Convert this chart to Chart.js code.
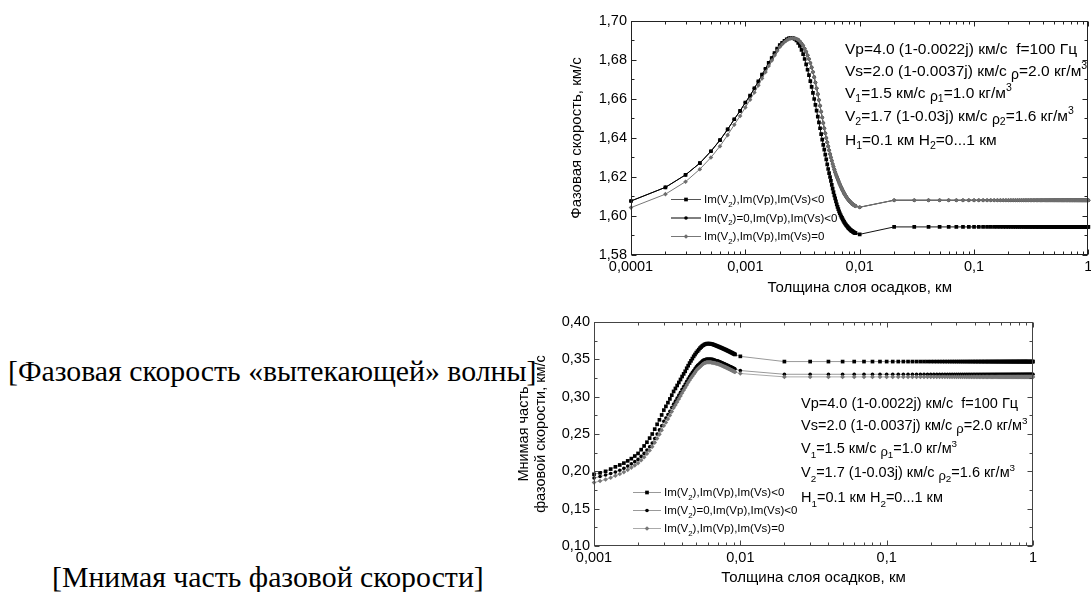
<!DOCTYPE html>
<html><head><meta charset="utf-8">
<script src="https://cdn.jsdelivr.net/npm/chart.js@4/dist/chart.umd.min.js"></script>
<style>
html,body{margin:0;padding:0;background:#fff;}
body{width:1091px;height:592px;overflow:hidden;position:relative;}
.box{position:absolute;}
.cap{position:absolute;font-family:"Liberation Serif";font-size:29.8px;white-space:nowrap;color:#000;line-height:1;}
</style></head><body>
<div class="cap" style="left:8px;top:356px">[Фазовая скорость «вытекающей» волны]</div>
<div class="cap" style="left:52px;top:562px">[Мнимая часть фазовой скорости]</div>
<div class="box" style="left:540px;top:0px;width:551px;height:300px"><canvas id="c1" width="551" height="300"></canvas></div>
<div class="box" style="left:500px;top:300px;width:591px;height:292px"><canvas id="c2" width="591" height="292"></canvas></div>
<script>
// ---- categories: layer thickness in units of 0.0001 km ----
const H_TOP = [1,2,3,4,5,6,7,8,9,10,11,12,13,14,15,16,17,18,19,20,21,22,23,24,25,26,27,28,29,30,
31,32,33,34,35,36,37,38,39,40,41,42,43,44,45,46,47,48,49,50,51,52,53,54,55,56,57,58,59,60,
61,62,63,64,65,66,67,68,69,70,71,72,73,74,75,76,77,78,79,80,81,82,83,84,85,86,87,88,89,90,91,92,
100,200,300,400,500,600,700,800,900,1000,1100,1200,1300,1400,1500,1600,1700,1800,1900,2000,
2100,2200,2300,2400,2500,2600,2700,2800,2900,3000,3100,3200,3300,3400,3500,3600,3700,3800,3900,4000,
4100,4200,4300,4400,4500,4600,4700,4800,4900,5000,5100,5200,5300,5400,5500,5600,5700,5800,5900,6000,
6100,6200,6300,6400,6500,6600,6700,6800,6900,7000,7100,7200,7300,7400,7500,7600,7700,7800,7900,8000,
8100,8200,8300,8400,8500,8600,8700,8800,8900,9000,9100,9200,9300,9400,9500,9600,9700,9800,9900,10000];
const H_BOT = H_TOP.filter(h => h >= 10);

// ---- top chart: phase velocity, km/s ----
const TOP_S1 = [1.6077,1.6147,1.6211,1.6271,1.6332,1.6389,1.6444,1.6496,1.6539,1.6582,
1.6617,1.6655,1.6690,1.6725,1.6755,1.6785,1.6810,1.6835,1.6858,1.6876,
1.6888,1.6898,1.6906,1.6911,1.6913,1.6912,1.6908,1.6900,1.6888,1.6872,
1.6852,1.6830,1.6805,1.6778,1.6750,1.6722,1.6692,1.6662,1.6631,1.6600,
1.6570,1.6540,1.6510,1.6480,1.6450,1.6420,1.6392,1.6365,1.6340,1.6315,
1.6290,1.6265,1.6241,1.6220,1.6200,1.6180,1.6160,1.6140,1.6122,1.6105,
1.6090,1.6075,1.6060,1.6047,1.6035,1.6024,1.6014,1.6005,1.5997,1.5990,
1.5983,1.5976,1.5970,1.5964,1.5959,1.5954,1.5950,1.5946,1.5942,1.5938,
1.5935,1.5932,1.5929,1.5926,1.5924,1.5922,1.5920,1.5918,1.5916,1.5914,
1.5913,1.5912,
1.5906,
1.5944,1.5944,1.5944,1.5944,1.5944,1.5944,1.5944,1.5944,1.5944,1.5944,1.5944,
1.5944,1.5944,1.5944,1.5944,1.5944,1.5944,1.5944,1.5944,1.5944,1.5944,1.5944,
1.5944,1.5944,1.5944,1.5944,1.5944,1.5944,1.5944,1.5944,1.5944,1.5944,1.5944,
1.5944,1.5944,1.5944,1.5944,1.5944,1.5944,1.5944,1.5944,1.5944,1.5944,1.5944,
1.5944,1.5944,1.5944,1.5944,1.5944,1.5944,1.5944,1.5944,1.5944,1.5944,1.5944,
1.5944,1.5944,1.5944,1.5944,1.5944,1.5944,1.5944,1.5944,1.5944,1.5944,1.5944,
1.5944,1.5944,1.5944,1.5944,1.5944,1.5944,1.5944,1.5944,1.5944,1.5944,1.5944,
1.5944,1.5944,1.5944,1.5944,1.5944,1.5944,1.5944,1.5944,1.5944,1.5944,1.5944,
1.5944,1.5944,1.5944,1.5944,1.5944,1.5944,1.5944,1.5944,1.5944,1.5944,1.5944];
const TOP_S2 = [1.6077,1.6147,1.6211,1.6271,1.6332,1.6389,1.6444,1.6496,1.6539,1.6582,
1.6617,1.6655,1.6690,1.6725,1.6755,1.6785,1.6810,1.6835,1.6858,1.6876,
1.6888,1.6898,1.6906,1.6911,1.6913,1.6912,1.6911,1.6908,1.6903,1.6895,
1.6885,1.6873,1.6858,1.6842,1.6824,1.6805,1.6785,1.6762,1.6738,1.6712,
1.6684,1.6655,1.6625,1.6595,1.6565,1.6535,1.6505,1.6477,1.6450,1.6424,
1.6400,1.6378,1.6357,1.6337,1.6318,1.6300,1.6283,1.6267,1.6252,1.6238,
1.6225,1.6213,1.6202,1.6192,1.6182,1.6172,1.6163,1.6154,1.6146,1.6138,
1.6131,1.6124,1.6117,1.6111,1.6105,1.6100,1.6095,1.6090,1.6086,1.6082,
1.6078,1.6074,1.6071,1.6068,1.6065,1.6062,1.6060,1.6058,1.6056,1.6054,
1.6052,1.6051,
1.6045,
1.6081,1.6081,1.6081,1.6081,1.6081,1.6081,1.6081,1.6081,1.6081,1.6081,1.6081,
1.6081,1.6081,1.6081,1.6081,1.6081,1.6081,1.6081,1.6081,1.6081,1.6081,1.6081,
1.6081,1.6081,1.6081,1.6081,1.6081,1.6081,1.6081,1.6081,1.6081,1.6081,1.6081,
1.6081,1.6081,1.6081,1.6081,1.6081,1.6081,1.6081,1.6081,1.6081,1.6081,1.6081,
1.6081,1.6081,1.6081,1.6081,1.6081,1.6081,1.6081,1.6081,1.6081,1.6081,1.6081,
1.6081,1.6081,1.6081,1.6081,1.6081,1.6081,1.6081,1.6081,1.6081,1.6081,1.6081,
1.6081,1.6081,1.6081,1.6081,1.6081,1.6081,1.6081,1.6081,1.6081,1.6081,1.6081,
1.6081,1.6081,1.6081,1.6081,1.6081,1.6081,1.6081,1.6081,1.6081,1.6081,1.6081,
1.6081,1.6081,1.6081,1.6081,1.6081,1.6081,1.6081,1.6081,1.6081,1.6081,1.6081];
const TOP_S3 = [1.6043,1.6112,1.6176,1.6240,1.6300,1.6358,1.6415,1.6468,1.6513,1.6557,
1.6596,1.6633,1.6670,1.6706,1.6738,1.6769,1.6797,1.6823,1.6847,1.6867,
1.6881,1.6892,1.6901,1.6908,1.6911,1.6912,1.6911,1.6908,1.6903,1.6895,
1.6885,1.6873,1.6858,1.6842,1.6824,1.6805,1.6785,1.6762,1.6738,1.6712,
1.6684,1.6655,1.6625,1.6595,1.6565,1.6535,1.6505,1.6477,1.6450,1.6424,
1.6400,1.6378,1.6357,1.6337,1.6318,1.6300,1.6283,1.6267,1.6252,1.6238,
1.6225,1.6213,1.6202,1.6192,1.6182,1.6172,1.6163,1.6154,1.6146,1.6138,
1.6131,1.6124,1.6117,1.6111,1.6105,1.6100,1.6095,1.6090,1.6086,1.6082,
1.6078,1.6074,1.6071,1.6068,1.6065,1.6062,1.6060,1.6058,1.6056,1.6054,
1.6052,1.6051,
1.6045,
1.6081,1.6081,1.6081,1.6081,1.6081,1.6081,1.6081,1.6081,1.6081,1.6081,1.6081,
1.6081,1.6081,1.6081,1.6081,1.6081,1.6081,1.6081,1.6081,1.6081,1.6081,1.6081,
1.6081,1.6081,1.6081,1.6081,1.6081,1.6081,1.6081,1.6081,1.6081,1.6081,1.6081,
1.6081,1.6081,1.6081,1.6081,1.6081,1.6081,1.6081,1.6081,1.6081,1.6081,1.6081,
1.6081,1.6081,1.6081,1.6081,1.6081,1.6081,1.6081,1.6081,1.6081,1.6081,1.6081,
1.6081,1.6081,1.6081,1.6081,1.6081,1.6081,1.6081,1.6081,1.6081,1.6081,1.6081,
1.6081,1.6081,1.6081,1.6081,1.6081,1.6081,1.6081,1.6081,1.6081,1.6081,1.6081,
1.6081,1.6081,1.6081,1.6081,1.6081,1.6081,1.6081,1.6081,1.6081,1.6081,1.6081,
1.6081,1.6081,1.6081,1.6081,1.6081,1.6081,1.6081,1.6081,1.6081,1.6081,1.6081];

// ---- bottom chart: imaginary part of phase velocity, km/s ----
const BOT_S1 = [0.196,0.198,0.200,0.203,0.206,0.2085,0.211,0.214,0.217,0.2205,
0.224,0.229,0.234,0.239,0.2445,0.250,0.2565,0.263,0.269,0.2755,
0.282,0.287,0.292,0.297,0.302,0.307,0.311,0.315,0.319,0.323,
0.327,0.3305,0.334,0.338,0.3415,0.345,0.348,0.351,0.354,0.3565,
0.359,0.361,0.363,0.365,0.3665,0.368,0.369,0.370,0.3705,0.371,
0.371,0.371,0.371,0.3705,0.3705,0.370,0.3695,0.369,0.3685,0.368,
0.3675,0.367,0.3665,0.366,0.3655,0.365,0.3645,0.364,0.3635,0.363,
0.3625,0.362,0.3615,0.361,0.3605,0.360,0.3595,0.359,0.3585,0.358,
0.3575,0.357,0.3565,
0.354,
0.347,0.347,0.347,0.347,0.347,0.347,0.347,0.347,0.347,0.347,0.347,
0.347,0.347,0.347,0.347,0.347,0.347,0.347,0.347,0.347,0.347,0.347,
0.347,0.347,0.347,0.347,0.347,0.347,0.347,0.347,0.347,0.347,0.347,
0.347,0.347,0.347,0.347,0.347,0.347,0.347,0.347,0.347,0.347,0.347,
0.347,0.347,0.347,0.347,0.347,0.347,0.347,0.347,0.347,0.347,0.347,
0.347,0.347,0.347,0.347,0.347,0.347,0.347,0.347,0.347,0.347,0.347,
0.347,0.347,0.347,0.347,0.347,0.347,0.347,0.347,0.347,0.347,0.347,
0.347,0.347,0.347,0.347,0.347,0.347,0.347,0.347,0.347,0.347,0.347,
0.347,0.347,0.347,0.347,0.347,0.347,0.347,0.347,0.347,0.347,0.347];
const BOT_S2 = [0.191,0.193,0.195,0.197,0.199,0.2015,0.204,0.207,0.210,0.213,
0.216,0.220,0.224,0.2285,0.233,0.238,0.244,0.250,0.2555,0.261,
0.267,0.2715,0.276,0.2805,0.2855,0.290,0.294,0.298,0.302,0.306,
0.310,0.3135,0.317,0.3205,0.324,0.327,0.330,0.3325,0.335,0.3375,
0.340,0.342,0.3435,0.345,0.3465,0.348,0.349,0.3495,0.350,0.3505,
0.3505,0.3505,0.3505,0.3505,0.350,0.350,0.3495,0.349,0.3485,0.348,
0.348,0.3475,0.347,0.3465,0.346,0.3455,0.345,0.3445,0.344,0.3435,
0.343,0.3425,0.342,0.3415,0.341,0.3405,0.340,0.3395,0.339,0.3385,
0.338,0.3375,0.337,
0.335,
0.330,0.330,0.330,0.330,0.330,0.330,0.330,0.330,0.330,0.330,0.330,
0.330,0.330,0.330,0.330,0.330,0.330,0.330,0.330,0.330,0.330,0.330,
0.330,0.330,0.330,0.330,0.330,0.330,0.330,0.330,0.330,0.330,0.330,
0.330,0.330,0.330,0.330,0.330,0.330,0.330,0.330,0.330,0.330,0.330,
0.330,0.330,0.330,0.330,0.330,0.330,0.330,0.330,0.330,0.330,0.330,
0.330,0.330,0.330,0.330,0.330,0.330,0.330,0.330,0.330,0.330,0.330,
0.330,0.330,0.330,0.330,0.330,0.330,0.330,0.330,0.330,0.330,0.330,
0.330,0.330,0.330,0.330,0.330,0.330,0.330,0.330,0.330,0.330,0.330,
0.330,0.330,0.330,0.330,0.330,0.330,0.330,0.330,0.330,0.330,0.330];
const BOT_S3 = [0.185,0.187,0.189,0.1915,0.194,0.1965,0.199,0.202,0.205,0.208,
0.211,0.215,0.219,0.2235,0.228,0.233,0.2385,0.244,0.2495,0.255,
0.261,0.2655,0.270,0.275,0.280,0.285,0.289,0.293,0.297,0.301,
0.305,0.3085,0.312,0.3155,0.319,0.322,0.325,0.3275,0.330,0.3325,
0.335,0.337,0.3385,0.340,0.3415,0.343,0.344,0.345,0.3455,0.346,
0.346,0.346,0.346,0.346,0.3455,0.3455,0.345,0.345,0.3445,0.344,
0.344,0.3435,0.343,0.3425,0.342,0.3415,0.341,0.3405,0.340,0.3395,
0.339,0.3385,0.338,0.3375,0.337,0.3365,0.336,0.3355,0.335,0.3345,
0.334,0.3335,0.333,
0.331,
0.3265,0.3265,0.3265,0.3265,0.3265,0.3265,0.3265,0.3265,0.3265,0.3265,0.3265,
0.3265,0.3265,0.3265,0.3265,0.3265,0.3265,0.3265,0.3265,0.3265,0.3265,0.3265,
0.3265,0.3265,0.3265,0.3265,0.3265,0.3265,0.3265,0.3265,0.3265,0.3265,0.3265,
0.3265,0.3265,0.3265,0.3265,0.3265,0.3265,0.3265,0.3265,0.3265,0.3265,0.3265,
0.3265,0.3265,0.3265,0.3265,0.3265,0.3265,0.3265,0.3265,0.3265,0.3265,0.3265,
0.3265,0.3265,0.3265,0.3265,0.3265,0.3265,0.3265,0.3265,0.3265,0.3265,0.3265,
0.3265,0.3265,0.3265,0.3265,0.3265,0.3265,0.3265,0.3265,0.3265,0.3265,0.3265,
0.3265,0.3265,0.3265,0.3265,0.3265,0.3265,0.3265,0.3265,0.3265,0.3265,0.3265,
0.3265,0.3265,0.3265,0.3265,0.3265,0.3265,0.3265,0.3265,0.3265,0.3265,0.3265];

// ---- tick labels ----
const TOP_X_TICKS = [0.0001, 0.001, 0.01, 0.1, 1];
const TOP_X_LABELS = ['0,0001', '0,001', '0,01', '0,1', '1'];
const TOP_Y_TICKS = [1.58, 1.60, 1.62, 1.64, 1.66, 1.68, 1.70];
const TOP_Y_LABELS = ['1,58', '1,60', '1,62', '1,64', '1,66', '1,68', '1,70'];
const BOT_X_TICKS = [0.001, 0.01, 0.1, 1];
const BOT_X_LABELS = ['0,001', '0,01', '0,1', '1'];
const BOT_Y_TICKS = [0.10, 0.15, 0.20, 0.25, 0.30, 0.35, 0.40];
const BOT_Y_LABELS = ['0,10', '0,15', '0,20', '0,25', '0,30', '0,35', '0,40'];

// ---- texts ----
const SERIES_NAMES = ['Im(V_{2}),Im(Vp),Im(Vs)<0', 'Im(V_{2})=0,Im(Vp),Im(Vs)<0', 'Im(V_{2}),Im(Vp),Im(Vs)=0'];
const NOTES = ['Vp=4.0 (1-0.0022j) км/с  f=100 Гц',
  'Vs=2.0 (1-0.0037j) км/с ρ=2.0 кг/м^{3}',
  'V_{1}=1.5 км/с ρ_{1}=1.0 кг/м^{3}',
  'V_{2}=1.7 (1-0.03j) км/с ρ_{2}=1.6 кг/м^{3}',
  'H_{1}=0.1 км H_{2}=0...1 км'];
const X_TITLE = 'Толщина слоя осадков, км';
const TOP_Y_TITLE = 'Фазовая скорость, км/с';
const BOT_Y_TITLE = ['Мнимая часть', 'фазовой скорости, км/с'];

const SANS = 'Liberation Sans';

function drawRich(ctx, str, x, y, size, color) {
  const parts = str.split(/(_\{[^}]*\}|\^\{[^}]*\}|ρ)/g).filter(s => s !== '');
  ctx.fillStyle = color; ctx.textBaseline = 'alphabetic'; ctx.textAlign = 'left';
  let cx = x;
  for (const p of parts) {
    let t = p, fs = size, dy = 0;
    if (p.startsWith('_{')) { t = p.slice(2, -1); fs = size * 0.68; dy = size * 0.3; }
    else if (p.startsWith('^{')) { t = p.slice(2, -1); fs = size * 0.68; dy = -size * 0.42; }
    else if (p === 'ρ') { fs = size * 0.9; dy = size * 0.2; }
    ctx.font = fs + 'px "' + SANS + '"';
    ctx.fillText(t, cx, y + dy);
    cx += ctx.measureText(t).width;
  }
}

function marker(ctx, style, x, y, r, color) {
  ctx.fillStyle = color;
  ctx.beginPath();
  if (style === 'rect') { const s = r * Math.SQRT1_2; ctx.rect(x - s, y - s, 2 * s, 2 * s); }
  else if (style === 'rectRot') { ctx.moveTo(x, y - r); ctx.lineTo(x + r, y); ctx.lineTo(x, y + r); ctx.lineTo(x - r, y); ctx.closePath(); }
  else { ctx.arc(x, y, r, 0, Math.PI * 2); }
  ctx.fill();
}

const decorPlugin = {
  id: 'decor',
  afterDatasetsDraw(chart, args, o) {
    const {ctx, chartArea: a, scales: {x, y}} = chart;
    ctx.save();
    ctx.strokeStyle = o.frame; ctx.lineWidth = 1;
    const L = Math.round(a.left) + 0.5, R = Math.round(a.right) - 0.5, T = Math.round(a.top) + 0.5, B = Math.round(a.bottom) - 0.5;
    ctx.strokeRect(L, T, R - L, B - T);
    ctx.beginPath();
    for (let d = Math.round(Math.log10(x.min)); d < 0.5; d++) {
      for (let k = 1; k <= 9; k++) {
        const v = k * Math.pow(10, d);
        if (v < x.min * 0.999 || v > x.max * 1.001) continue;
        const px = Math.round(x.getPixelForValue(v)) + 0.5, len = k === 1 ? 5 : 3;
        ctx.moveTo(px, B); ctx.lineTo(px, B - len);
        ctx.moveTo(px, T); ctx.lineTo(px, T + len);
      }
    }
    const n = Math.round((y.max - y.min) / o.yMinor);
    for (let i = 0; i <= n; i++) {
      const v = y.min + i * o.yMinor;
      const py = Math.round(y.getPixelForValue(v)) + 0.5, len = i % 2 === 0 ? 5 : 3;
      ctx.moveTo(L, py); ctx.lineTo(L + len, py);
      ctx.moveTo(R, py); ctx.lineTo(R - len, py);
    }
    ctx.stroke();
    // legend
    const lg = o.legend;
    chart.data.datasets.forEach((ds, i) => {
      const yy = lg.y + i * lg.dy;
      ctx.strokeStyle = ds.legendLine || ds.borderColor; ctx.lineWidth = 1;
      ctx.beginPath(); ctx.moveTo(lg.x0, yy + 0.5); ctx.lineTo(lg.x1, yy + 0.5); ctx.stroke();
      marker(ctx, ds.pointStyle, (lg.x0 + lg.x1) / 2, yy + 0.5, ds.pointRadius, ds.pointBackgroundColor);
      drawRich(ctx, SERIES_NAMES[i], lg.tx, yy + lg.size * 0.36, lg.size, '#000');
    });
    // notes
    const nt = o.notes;
    NOTES.forEach((s, i) => drawRich(ctx, s, nt.x, nt.ys[i] + nt.size * 0.36, nt.size, '#000'));
    ctx.restore();
  }
};

function series(xs, ys, opt) {
  return Object.assign({
    data: xs.map((h, i) => ({x: h / 10000, y: ys[i]})),
    showLine: true, borderWidth: 1, tension: 0, clip: 6,
    pointBorderWidth: 0, pointHoverRadius: 0
  }, opt);
}

function makeChart(id, cfg) {
  const tickFont = {family: SANS, size: cfg.tickSize};
  return new Chart(document.getElementById(id), {
    type: 'scatter',
    data: {datasets: cfg.datasets},
    options: {
      responsive: false, animation: false, devicePixelRatio: 1,
      layout: {padding: cfg.padding},
      plugins: {legend: {display: false}, tooltip: {enabled: false}, decor: cfg.decor},
      scales: {
        x: {
          type: 'logarithmic', min: cfg.xTicks[0], max: cfg.xTicks[cfg.xTicks.length - 1],
          afterBuildTicks: s => { s.ticks = cfg.xTicks.map(v => ({value: v, major: true})); },
          ticks: {callback: (v, i) => cfg.xLabels[i], font: tickFont, color: '#000', padding: 3, maxRotation: 0, autoSkip: false},
          grid: {display: false, drawTicks: false}, border: {display: false},
          title: {display: true, text: X_TITLE, font: {family: SANS, size: cfg.titleSize}, color: '#000', padding: {top: 0, bottom: cfg.xTitlePad}},
          afterFit: s => { s.height = cfg.xHeight; s.paddingLeft = 0; s.paddingRight = 0; }
        },
        y: {
          type: 'linear', min: cfg.yTicks[0], max: cfg.yTicks[cfg.yTicks.length - 1],
          afterBuildTicks: s => { s.ticks = cfg.yTicks.map(v => ({value: v})); },
          ticks: {callback: (v, i) => cfg.yLabels[i], font: tickFont, color: '#000', padding: 4, autoSkip: false},
          grid: {display: false, drawTicks: false}, border: {display: false},
          title: {display: true, text: cfg.yTitle, font: {family: SANS, size: cfg.yTitleSize, lineHeight: 1.2}, color: '#000', padding: {top: cfg.yTitlePad, bottom: 0}},
          afterFit: s => { s.width = cfg.yWidth; s.paddingTop = 0; s.paddingBottom = 0; }
        }
      }
    },
    plugins: [decorPlugin]
  });
}

makeChart('c1', {
  padding: {top: 21, right: 2, left: 0, bottom: 0},
  xTicks: TOP_X_TICKS, xLabels: TOP_X_LABELS, yTicks: TOP_Y_TICKS, yLabels: TOP_Y_LABELS,
  tickSize: 14.5, titleSize: 15, xTitlePad: 3, xHeight: 45,
  yTitle: TOP_Y_TITLE, yTitleSize: 15, yTitlePad: 28, yWidth: 91,
  datasets: [
    series(H_TOP, TOP_S1, {label: 'S1', borderColor: '#111', legendLine: '#555', pointStyle: 'rect', pointRadius: 2.6, pointBackgroundColor: '#000', order: 2}),
    series(H_TOP, TOP_S2, {label: 'S2', borderColor: '#000', pointStyle: 'circle', pointRadius: 1.8, pointBackgroundColor: '#000', order: 1}),
    series(H_TOP, TOP_S3, {label: 'S3', borderColor: '#777', pointStyle: 'rectRot', pointRadius: 2.3, pointBackgroundColor: '#6e6e6e', order: 0})
  ],
  decor: {frame: '#222', yMinor: 0.01,
    legend: {x0: 131, x1: 161, tx: 164, y: 199, dy: 18.5, size: 11.5},
    notes: {x: 305, ys: [48, 70, 92, 115, 139], size: 15.5}}
});

makeChart('c2', {
  padding: {top: 22, right: 58, left: 0, bottom: 0},
  xTicks: BOT_X_TICKS, xLabels: BOT_X_LABELS, yTicks: BOT_Y_TICKS, yLabels: BOT_Y_LABELS,
  tickSize: 14.5, titleSize: 15, xTitlePad: 5, xHeight: 46,
  yTitle: BOT_Y_TITLE, yTitleSize: 14.5, yTitlePad: 15, yWidth: 94,
  datasets: [
    series(H_BOT, BOT_S1, {label: 'S1', borderColor: '#999', pointStyle: 'rect', pointRadius: 2.6, pointBackgroundColor: '#000', order: 2}),
    series(H_BOT, BOT_S2, {label: 'S2', borderColor: '#999', pointStyle: 'circle', pointRadius: 1.8, pointBackgroundColor: '#000', order: 1}),
    series(H_BOT, BOT_S3, {label: 'S3', borderColor: '#aaa', pointStyle: 'rectRot', pointRadius: 2.3, pointBackgroundColor: '#777', order: 0})
  ],
  decor: {frame: '#444', yMinor: 0.025,
    legend: {x0: 133, x1: 161, tx: 164, y: 192, dy: 18, size: 11.5},
    notes: {x: 301, ys: [103, 125, 148, 172, 197], size: 14.5}}
});
</script>
</body></html>
